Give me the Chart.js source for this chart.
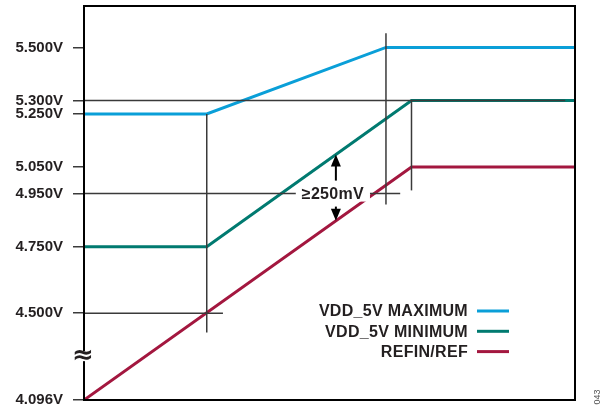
<!DOCTYPE html>
<html>
<head>
<meta charset="utf-8">
<script src="https://cdn.jsdelivr.net/npm/chart.js"></script>
<style>
  body { margin: 0; background: #fff; }
</style>
</head>
<body>
<canvas id="grafico" width="610" height="409"></canvas>
<script>
// valores (tiempo en % del eje, tension en V)
const ticksVolt = [4.096, 4.5, 4.75, 4.95, 5.05, 5.25, 5.3, 5.5];
const maxTiempo = [0, 25, 61.5, 100];
const maxVolt = [5.25, 5.25, 5.5, 5.5];
const minTiempo = [0, 25, 66.7, 100];
const minVolt = [4.75, 4.75, 5.3, 5.3];
const refTiempo = [0, 66.7, 100];
const refVolt = [4.096, 5.05, 5.05];
const etiquetas = ['VDD_5V MAXIMUM', 'VDD_5V MINIMUM', 'REFIN/REF'];
const colores = ['#0a9fd8', '#007a70', '#a3173f'];

// lineas guia [t1, v1, t2, v2]
const guias = [
    [0, 5.3, 98, 5.3],
    [0, 4.95, 64.4, 4.95],
    [0, 4.5, 28.3, 4.5],
    [25, 5.25, 25, 4.41],
    [61.5, 5.553, 61.5, 4.909],
    [66.7, 5.3, 66.7, 4.962]
];
const margenTexto = '\u2265250mV';
const margenTiempo = 51.3;

const fuente = '"Liberation Sans", Arial, sans-serif';
const tinta = '#231f20';

// bajo 4.5V el eje esta cortado (≈), se comprime
const CORTE = 4.5;
const FACTOR = 0.809;
function aEje(v) {
    return v >= CORTE ? v : CORTE - (CORTE - v) * FACTOR;
}
function interp(ts, vs, t) {
    for (let i = 1; i < ts.length; i++) {
        if (t <= ts[i]) {
            const f = (t - ts[i - 1]) / (ts[i] - ts[i - 1]);
            return aEje(vs[i - 1]) + f * (aEje(vs[i]) - aEje(vs[i - 1]));
        }
    }
    return aEje(vs[vs.length - 1]);
}
function puntos(ts, vs) {
    return ts.map((t, i) => ({ x: t, y: aEje(vs[i]) }));
}
function flecha(ctx, x, y0, y1) {
    const dir = y1 < y0 ? 1 : -1;
    ctx.beginPath();
    ctx.moveTo(x, y0);
    ctx.lineTo(x, y1 + dir * 10);
    ctx.stroke();
    ctx.beginPath();
    ctx.moveTo(x, y1);
    ctx.lineTo(x - 5, y1 + dir * 12);
    ctx.lineTo(x + 5, y1 + dir * 12);
    ctx.closePath();
    ctx.fill();
}

const dibujos = {
    id: 'dibujos',
    afterDatasetsDraw(chart) {
        const ctx = chart.ctx;
        const xs = chart.scales.x;
        const ys = chart.scales.y;
        const area = chart.chartArea;
        const px = t => xs.getPixelForValue(t);
        const py = v => ys.getPixelForValue(aEje(v));
        ctx.save();

        ctx.strokeStyle = '#3a3a3a';
        ctx.lineWidth = 1.5;
        guias.forEach(g => {
            ctx.beginPath();
            ctx.moveTo(px(g[0]), py(g[1]));
            ctx.lineTo(px(g[2]), py(g[3]));
            ctx.stroke();
        });

        ctx.strokeStyle = '#000';
        ctx.lineWidth = 2;
        ctx.strokeRect(area.left, area.top, area.width, area.height);

        // simbolo de corte del eje
        const yCorte = py(4.3);
        ctx.fillStyle = '#fff';
        ctx.fillRect(area.left - 2, yCorte - 5, 4, 10);
        ctx.fillStyle = tinta;
        ctx.font = 'bold 26px "DejaVu Sans", sans-serif';
        ctx.textAlign = 'center';
        ctx.textBaseline = 'middle';
        ctx.fillText('\u2248', area.left - 1, yCorte);

        // etiqueta ≥250mV con flechas
        const xF = px(margenTiempo);
        const yLab = py(4.95);
        ctx.font = 'bold 16px ' + fuente;
        ctx.letterSpacing = '0.3px';
        const w = ctx.measureText(margenTexto).width;
        ctx.fillStyle = '#fff';
        ctx.fillRect(xF - 3 - w / 2 - 6, yLab - 8, w + 12, 16);
        ctx.fillStyle = tinta;
        ctx.fillText(margenTexto, xF - 3, yLab + 1);
        ctx.strokeStyle = '#000';
        ctx.fillStyle = '#000';
        ctx.lineWidth = 2;
        flecha(ctx, xF, yLab - 13, ys.getPixelForValue(interp(minTiempo, minVolt, margenTiempo)));
        flecha(ctx, xF, yLab + 13, ys.getPixelForValue(interp(refTiempo, refVolt, margenTiempo)));

        // leyenda: texto y despues la linea
        ctx.textAlign = 'right';
        chart.data.datasets.forEach((ds, i) => {
            const y = area.bottom - 89 + i * 20.3;
            ctx.fillStyle = tinta;
            ctx.fillText(ds.label, area.right - 107, y + 1);
            ctx.strokeStyle = ds.borderColor;
            ctx.lineWidth = 3;
            ctx.beginPath();
            ctx.moveTo(area.right - 98, y);
            ctx.lineTo(area.right - 66, y);
            ctx.stroke();
        });
        ctx.letterSpacing = '0px';

        ctx.translate(598, 397);
        ctx.rotate(-Math.PI / 2);
        ctx.font = '9px ' + fuente;
        ctx.fillStyle = '#555';
        ctx.textAlign = 'center';
        ctx.fillText('043', 0, 0);
        ctx.restore();
    }
};

const canvasGrafico = document.getElementById('grafico');
const grafico = new Chart(canvasGrafico, {
    type: 'line',
    data: {
        datasets: [
            { label: etiquetas[0], data: puntos(maxTiempo, maxVolt), borderColor: colores[0] },
            { label: etiquetas[1], data: puntos(minTiempo, minVolt), borderColor: colores[1] },
            { label: etiquetas[2], data: puntos(refTiempo, refVolt), borderColor: colores[2] }
        ]
    },
    options: {
        responsive: false,
        animation: false,
        layout: { padding: { left: 0, top: 6, right: 35, bottom: 9 } },
        elements: {
            line: { borderWidth: 3, tension: 0, fill: false },
            point: { radius: 0 }
        },
        plugins: {
            legend: { display: false },
            tooltip: { enabled: false }
        },
        scales: {
            x: { type: 'linear', min: 0, max: 100, display: false },
            y: {
                type: 'linear',
                min: aEje(ticksVolt[0]),
                max: 5.656,
                afterFit(scale) {
                    scale.width = 84;
                    scale.paddingTop = 0;
                    scale.paddingBottom = 0;
                },
                afterBuildTicks(scale) {
                    scale.ticks = ticksVolt.map(v => ({ value: aEje(v) }));
                },
                ticks: {
                    autoSkip: false,
                    padding: 10,
                    color: tinta,
                    font: { family: fuente, size: 15, weight: 'bold' },
                    callback: (value, index) => ticksVolt[index].toFixed(3) + 'V'
                },
                grid: {
                    drawOnChartArea: false,
                    drawTicks: true,
                    tickLength: 11,
                    color: '#3a3a3a',
                    lineWidth: 1.5
                },
                border: { display: false }
            }
        }
    },
    plugins: [dibujos]
});
</script>
</body>
</html>
